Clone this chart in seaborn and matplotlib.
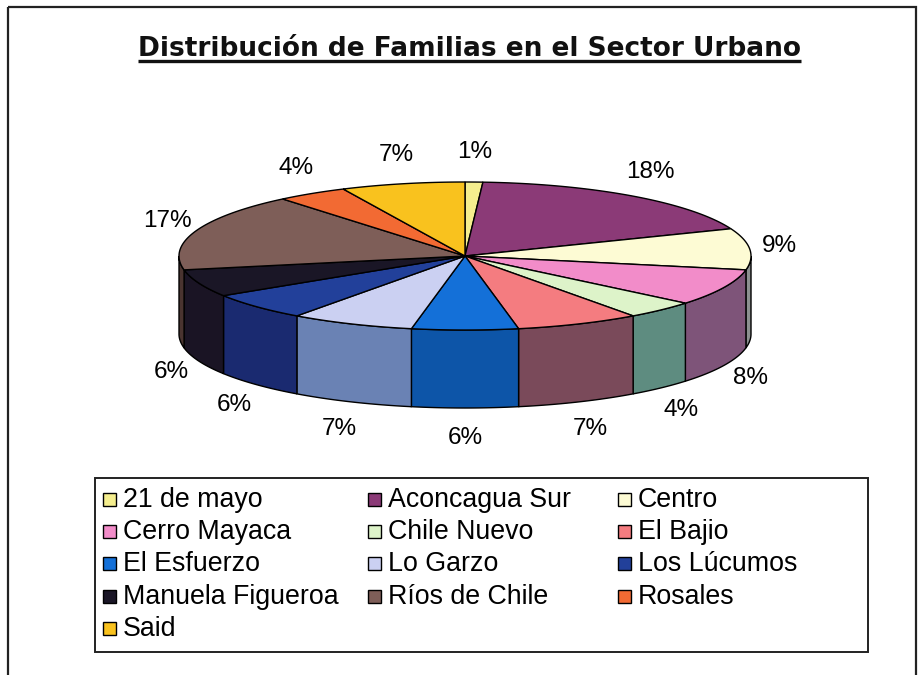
import numpy as np
import matplotlib
matplotlib.use("Agg")
import matplotlib.pyplot as plt
import seaborn as sns
from matplotlib.patches import Polygon, Rectangle

# data (percent of families)
barrios = ["21 de mayo", "Aconcagua Sur", "Centro", "Cerro Mayaca", "Chile Nuevo",
           "El Bajio", "El Esfuerzo", "Lo Garzo", "Los Lúcumos", "Manuela Figueroa",
           "Ríos de Chile", "Rosales", "Said"]
porcentajes = [1, 18, 9, 8, 4, 7, 6, 7, 6, 6, 17, 4, 7]
titulo = "Distribución de Familias en el Sector Urbano"

top_colors = ["#F5EE8E", "#8B3A77", "#FDFBD4", "#F28CC9", "#DDF3C9", "#F47C80", "#1470D8",
              "#CBD0F2", "#22409A", "#1A1626", "#7E5E58", "#F26A33", "#F9C21E"]
wall_colors = ["#8C8A50", "#5A2550", "#8C9090", "#7E5479", "#5E8C80", "#7A4A5A", "#0D55A8",
               "#6A82B4", "#1A2A70", "#1A1424", "#4A3430", "#8A3A1A", "#8A6A10"]

sns.set_theme(style="white")
plt.rcParams["font.family"] = ["Liberation Sans", "DejaVu Sans"]

fig = plt.figure(figsize=(9.19, 6.75), dpi=100)
ax = fig.add_axes([0, 0, 1, 1])
ax.set_xlim(0, 919)
ax.set_ylim(675, 0)
ax.axis("off")

# outer frame
ax.add_patch(Rectangle((8, 7), 908, 700, fill=False, ec="#222222", lw=1.6, zorder=0))

# 3D pie geometry (pixel space)
cx, cy, rx, ry, depth = 465, 256, 286, 74, 78


def rim(a):
    a = np.radians(a)
    return cx + rx * np.sin(a), cy - ry * np.cos(a)


fr = np.array(porcentajes, dtype=float) / sum(porcentajes) * 360
ends = np.cumsum(fr)
starts = ends - fr

for i in range(len(barrios)):
    a0, a1 = starts[i], ends[i]
    # side wall for the front half
    lo, hi = max(a0, 90), min(a1, 270)
    if hi > lo:
        t = np.linspace(lo, hi, 60)
        xs, ys = rim(t)
        pts = np.column_stack([np.r_[xs, xs[::-1]], np.r_[ys, ys[::-1] + depth]])
        ax.add_patch(Polygon(pts, closed=True, fc=wall_colors[i], ec="black", lw=1, zorder=1))
    # top face
    t = np.linspace(a0, a1, 80)
    xs, ys = rim(t)
    pts = np.column_stack([np.r_[cx, xs], np.r_[cy, ys]])
    ax.add_patch(Polygon(pts, closed=True, fc=top_colors[i], ec="black", lw=1, zorder=2))

    # percentage label
    mid = np.radians((a0 + a1) / 2)
    lx = cx + (rx + 30) * np.sin(mid)
    ly = cy - (ry + 30) * np.cos(mid) + (depth if np.cos(mid) < 0 else 0)
    ax.text(lx, ly, f"{porcentajes[i]}%", ha="center", va="center", fontsize=17.5,
            color="black", zorder=3)

# title with underline
tt = ax.text(469, 56, titulo, ha="center", va="baseline", fontsize=19,
             fontweight="bold", family="DejaVu Sans", color="#111111")
fig.canvas.draw()
bb = tt.get_window_extent(fig.canvas.get_renderer())
ax.plot([bb.x0, bb.x1], [61, 61], color="#111111", lw=2.4, solid_capstyle="butt")

# legend box, filled row by row like the reference
ax.add_patch(Rectangle((95, 478), 773, 174, fill=False, ec="#222222", lw=1.4, zorder=0))
col_x = [103, 368, 618]
for i, (name, col) in enumerate(zip(barrios, top_colors)):
    r, c = divmod(i, 3)
    y = 500 + r * 32.2
    ax.add_patch(Rectangle((col_x[c], y - 7), 13, 13, fc=col, ec="black", lw=1, zorder=3))
    ax.text(col_x[c] + 20, y, name, ha="left", va="center", fontsize=19.3, color="black")

fig.savefig("out.png", dpi=100)
